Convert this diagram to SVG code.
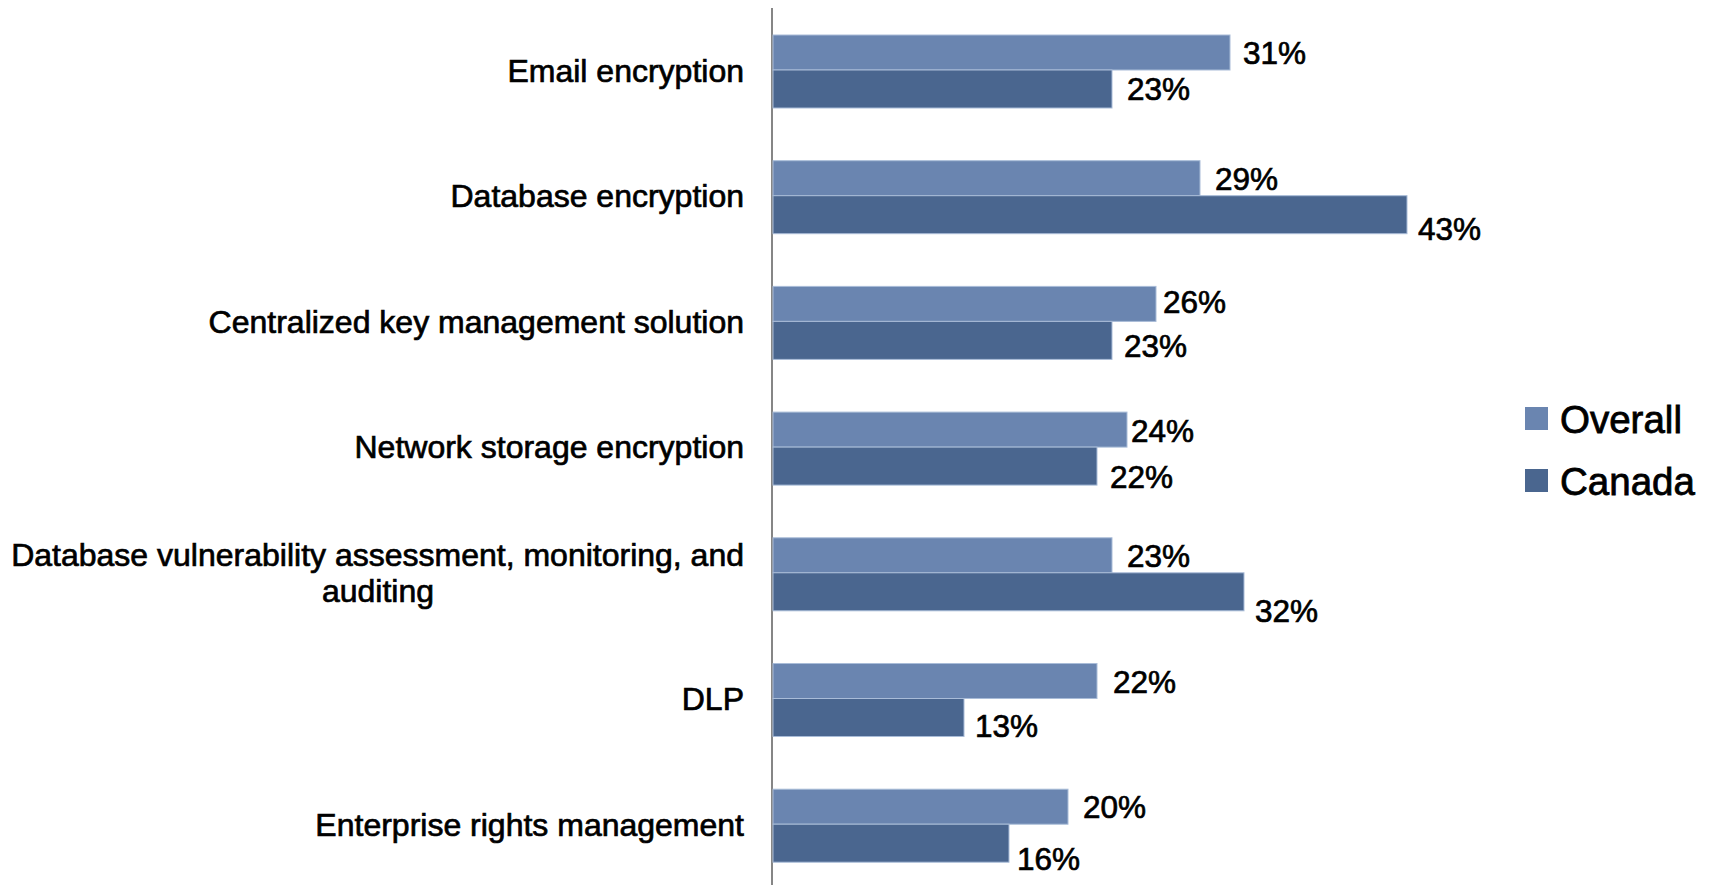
<svg xmlns="http://www.w3.org/2000/svg" width="1714" height="885" viewBox="0 0 1714 885">
<style>
.cat{font-family:"Liberation Sans",Arial,sans-serif;font-size:32px;fill:#000;stroke:#000;stroke-width:0.7px;text-anchor:end}
.val{font-family:"Liberation Sans",Arial,sans-serif;font-size:31.5px;fill:#000;stroke:#000;stroke-width:0.7px}
.leg{font-family:"Liberation Sans",Arial,sans-serif;font-size:38.5px;fill:#000;stroke:#000;stroke-width:0.8px}
.ov{fill:#6A85B0;stroke:#A9BCD8;stroke-width:1}
.ca{fill:#4A668F;stroke:#A9BCD8;stroke-width:1}
</style>
<rect width="1714" height="885" fill="#fff"/>
<g id="axis">
<line x1="772" y1="8" x2="772" y2="885" stroke="#868686" stroke-width="2"/>
</g>
<g id="cat-email">
<text class="cat" x="744" y="82">Email encryption</text>
<rect class="ov" x="773" y="35" width="457" height="35"/>
<rect class="ca" x="773" y="70" width="339" height="38"/>
<text class="val" x="1243" y="64">31%</text>
<text class="val" x="1127" y="100">23%</text>
</g>
<g id="cat-database">
<text class="cat" x="744" y="207">Database encryption</text>
<rect class="ov" x="773" y="160.7" width="427" height="35"/>
<rect class="ca" x="773" y="195.7" width="634" height="38"/>
<text class="val" x="1215" y="190">29%</text>
<text class="val" x="1418" y="240">43%</text>
</g>
<g id="cat-keymgmt">
<text class="cat" x="744" y="333">Centralized key management solution</text>
<rect class="ov" x="773" y="286.4" width="383" height="35"/>
<rect class="ca" x="773" y="321.4" width="339" height="38"/>
<text class="val" x="1163" y="313">26%</text>
<text class="val" x="1124" y="357">23%</text>
</g>
<g id="cat-network">
<text class="cat" x="744" y="458">Network storage encryption</text>
<rect class="ov" x="773" y="412.1" width="354" height="35"/>
<rect class="ca" x="773" y="447.1" width="324" height="38"/>
<text class="val" x="1131" y="442">24%</text>
<text class="val" x="1110" y="488">22%</text>
</g>
<g id="cat-dbvuln">
<text class="cat" x="744" y="566">Database vulnerability assessment, monitoring, and</text>
<text class="cat" x="378" y="602" style="text-anchor:middle">auditing</text>
<rect class="ov" x="773" y="537.8" width="339" height="35"/>
<rect class="ca" x="773" y="572.8" width="471" height="38"/>
<text class="val" x="1127" y="567">23%</text>
<text class="val" x="1255" y="622">32%</text>
</g>
<g id="cat-dlp">
<text class="cat" x="744" y="710">DLP</text>
<rect class="ov" x="773" y="663.5" width="324" height="35"/>
<rect class="ca" x="773" y="698.5" width="191" height="38"/>
<text class="val" x="1113" y="693">22%</text>
<text class="val" x="975" y="737">13%</text>
</g>
<g id="cat-erm">
<text class="cat" x="744" y="836">Enterprise rights management</text>
<rect class="ov" x="773" y="789.2" width="295" height="35"/>
<rect class="ca" x="773" y="824.2" width="236" height="38"/>
<text class="val" x="1083" y="818">20%</text>
<text class="val" x="1017" y="870">16%</text>
</g>
<g id="legend">
<rect x="1525" y="407" width="23" height="23" fill="#6A85B0"/>
<text class="leg" x="1560" y="433">Overall</text>
<rect x="1525" y="469" width="23" height="23" fill="#4A668F"/>
<text class="leg" x="1560" y="495">Canada</text>
</g>
</svg>
